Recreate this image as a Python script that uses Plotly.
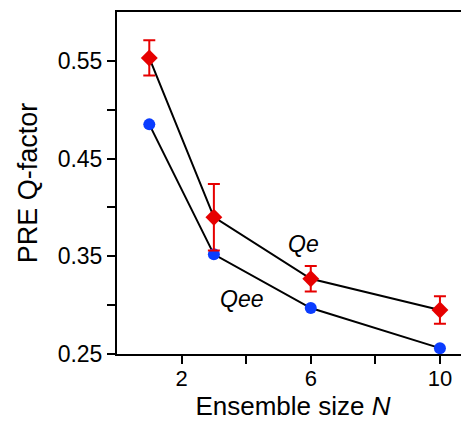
import plotly.graph_objects as go

ensemble_size = [1, 3, 6, 10]
q_e = [0.553, 0.390, 0.327, 0.295]
q_e_err = [0.018, 0.034, 0.013, 0.014]
q_ee = [0.485, 0.352, 0.297, 0.256]

x_tickvals = [2, 4, 6, 8, 10]
x_ticktext = ["2", "", "6", "", "10"]
y_tickvals = [0.25, 0.30, 0.35, 0.40, 0.45, 0.50, 0.55]
y_ticktext = ["0.25", "", "0.35", "", "0.45", "", "0.55"]

RED = "#e60000"
BLUE = "#0a3cff"
FONT = "Liberation Sans, Arial, Helvetica, sans-serif"

fig = go.Figure()
fig.add_trace(go.Scatter(
    x=ensemble_size, y=q_ee, mode="lines+markers",
    line=dict(color="black", width=2),
    marker=dict(symbol="circle", size=12, color=BLUE),
    showlegend=False,
))
fig.add_trace(go.Scatter(
    x=ensemble_size, y=q_e, mode="lines+markers",
    line=dict(color="black", width=2),
    marker=dict(symbol="diamond", size=13, color=RED),
    error_y=dict(type="data", array=q_e_err, visible=True, color=RED, thickness=2, width=6),
    showlegend=False,
))

fig.add_annotation(x=5.76, y=0.363, text="<i>Qe</i>", showarrow=False,
                   font=dict(family=FONT, size=23, color="black"))
fig.add_annotation(x=3.84, y=0.3066, text="<i>Qee</i>", showarrow=False,
                   font=dict(family=FONT, size=23, color="black"))

fig.update_layout(
    width=461, height=413,
    margin=dict(l=109, r=0, t=4, b=67),
    paper_bgcolor="white", plot_bgcolor="white",
    font=dict(family=FONT, color="black"),
    xaxis=dict(
        range=[0, 10.9], tickvals=x_tickvals, ticktext=x_ticktext,
        showgrid=False, zeroline=False,
        showline=True, linecolor="black", linewidth=2, mirror=True,
        ticks="outside", ticklen=8, tickwidth=2, tickcolor="black",
        ticklabelstandoff=-4,
        tickfont=dict(family=FONT, size=22, color="black"),
        title=dict(text="Ensemble size <i>N</i>", font=dict(family=FONT, size=26, color="black"), standoff=10),
        automargin=False,
    ),
    yaxis=dict(
        range=[0.25, 0.60], tickvals=y_tickvals, ticktext=y_ticktext,
        showgrid=False, zeroline=False,
        showline=True, linecolor="black", linewidth=2, mirror=False,
        ticks="outside", ticklen=8, tickwidth=2, tickcolor="black",
        tickfont=dict(family=FONT, size=23, color="black"),
        title=dict(text="PRE Q-factor", font=dict(family=FONT, size=27, color="black"), standoff=12),
        automargin=False,
    ),
)

fig.write_html("out.html")
